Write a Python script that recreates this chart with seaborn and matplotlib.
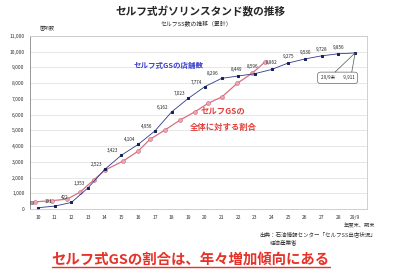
import numpy as np
import matplotlib
matplotlib.use("Agg")
import matplotlib.pyplot as plt
from matplotlib.lines import Line2D
import seaborn as sns

# x categories (fiscal year end, Heisei)
years = ["10", "11", "12", "13", "14", "15", "16", "17", "18", "19",
         "20", "21", "22", "23", "24", "25", "26", "27", "28", "29/9"]
# self-service station count (cumulative)
self_ss = [89, 191, 422, 1353, 2523, 3423, 4104, 4956, 6162, 7023,
           7774, 8296, 8449, 8596, 8862, 9275, 9530, 9728, 9856, 9911]
share_pos = [-0.18, 0.84, 1.74, 2.52, 3.36, 4.02, 5.10, 6.0, 6.71, 7.61,
             8.51, 9.41, 10.19, 11.03, 11.93, 12.83, 13.61]
share_val = [460, 540, 630, 1080, 1870, 2480, 3050, 3680, 4430, 5020,
             5650, 6180, 6710, 7130, 7980, 8620, 9350]

sns.set_style("white")
plt.rcParams["font.family"] = ["Noto Sans CJK JP", "DejaVu Sans"]

fig = plt.figure(figsize=(4.0, 2.73), dpi=100)
ax = fig.add_axes([0.075, 0.234, 0.842, 0.635])

x = np.arange(len(years))
sns.lineplot(x=share_pos, y=share_val, ax=ax, color="#d8707f", lw=0.9,
             marker="o", markersize=2.8, markerfacecolor="#eaa7b4",
             markeredgecolor="#d06075", markeredgewidth=0.4)
sns.lineplot(x=x, y=self_ss, ax=ax, color="#2e3b85", lw=0.6,
             marker="s", markersize=1.9, markerfacecolor="#16205a",
             markeredgecolor="#16205a")

ax.set_xlim(-0.48, 19.7)
ax.set_ylim(0, 11000)
ax.set_yticks(range(0, 11001, 1000))
ax.set_yticklabels([f"{v:,}" for v in range(0, 11001, 1000)])
ax.set_xticks(x)
ax.set_xticklabels(years)
ax.tick_params(labelsize=3.6, length=0, pad=4, colors="#333333")
ax.yaxis.grid(True, color="#dddddd", lw=0.5)
ax.set_xlabel("")
ax.set_ylabel("")
for side, sp in ax.spines.items():
    sp.set_color("#c8c8c8")
    sp.set_linewidth(0.6)
ax.spines["left"].set_color("#888888")

# value labels
for i, v in enumerate(self_ss[:-1]):
    if i < 12:
        ax.annotate(f"{v:,}", (i, v), xytext=(-2, 1.5), textcoords="offset points",
                    ha="right", va="bottom", fontsize=3.3, color="#222222")
    else:
        dx = -1.5 if i < 14 else 0
        ax.annotate(f"{v:,}", (i, v), xytext=(dx, 3), textcoords="offset points",
                    ha="center", va="bottom", fontsize=3.3, color="#222222")

# callout for the last point
ax.text(17.95, 8330, "29/9末        9,911", fontsize=3.3, ha="center", va="center",
        color="#222222",
        bbox=dict(boxstyle="round,pad=0.7", fc="white", ec="#666666", lw=0.5))
for tx in (17.8, 18.8):
    ax.annotate("", xy=(19, self_ss[-1]), xytext=(tx, 8700),
                arrowprops=dict(arrowstyle="-", color="#555555", lw=0.5,
                                shrinkA=0, shrinkB=0))

ax.text(7.85, 9100, "セルフ式GSの店舗数", fontsize=5.4, fontweight="bold",
        color="#3a40cc", ha="center", va="center")
ax.text(11.1, 6220, "セルフGSの", fontsize=6, fontweight="bold",
        color="#e2403a", ha="center", va="center")
ax.text(11.1, 5190, "全体に対する割合", fontsize=6, fontweight="bold",
        color="#e2403a", ha="center", va="center")

fig.text(0.502, 1 - 12.3 / 273, "セルフ式ガソリンスタンド数の推移", fontsize=7.7,
         fontweight="bold", ha="center", va="center")
fig.text(0.491, 1 - 23.3 / 273, "セルフSS数の推移（累計）", fontsize=4.2,
         ha="center", va="center")
fig.text(40 / 400, 1 - 29 / 273, "箇所数", fontsize=3.6, ha="left", va="center",
         color="#333333")
fig.text(375 / 400, 1 - 226 / 273, "年度末、期末", fontsize=3.8, ha="right",
         va="center", color="#333333")
fig.text(376 / 400, 1 - 234 / 273, "出典：石油情報センター「セルフSS出店状況」",
         fontsize=4.0, ha="right", va="center", color="#333333")
fig.text(270 / 400, 1 - 242.5 / 273, "経済産業省", fontsize=4.0, ha="left",
         va="center", color="#333333")
cap = fig.text(0.477, 1 - 259.5 / 273, "セルフ式GSの割合は、年々増加傾向にある",
               fontsize=10.4, fontweight="bold", color="#e6332a",
               ha="center", va="center")

# underline the caption
fig.canvas.draw()
bb = cap.get_window_extent().transformed(fig.transFigure.inverted())
fig.add_artist(Line2D([bb.x0, bb.x1], [bb.y0 - 0.002, bb.y0 - 0.002],
                      transform=fig.transFigure, color="#e6332a", lw=1.0))

fig.savefig("out.png", dpi=100, facecolor="white")
